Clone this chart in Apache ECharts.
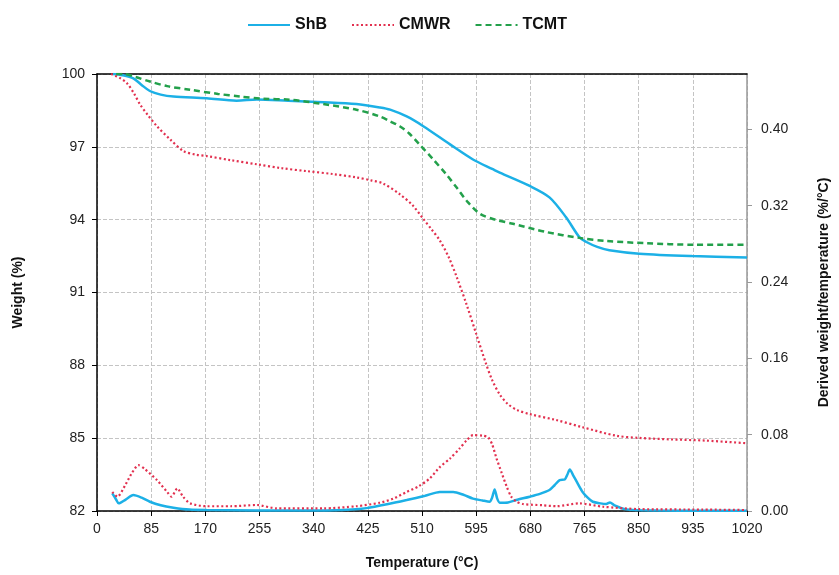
<!DOCTYPE html>
<html>
<head>
<meta charset="utf-8">
<script src="https://cdn.jsdelivr.net/npm/echarts@6/dist/echarts.min.js"></script>
<style>html,body{margin:0;padding:0;background:#fff;overflow:hidden}#c{width:839px;height:575px}</style>
</head>
<body>
<div id="c"></div>
<script>
// ---- data ----
const legendNames = ['ShB', 'CMWR', 'TCMT'];
const xTicks = [0, 85, 170, 255, 340, 425, 510, 595, 680, 765, 850, 935, 1020];

// TG curves (left axis, Weight %)
const shbTgT = [25, 40, 57, 70, 83, 100, 120, 172, 219, 251, 300, 355, 407, 444, 460, 486, 512, 554, 590, 621, 632, 679, 710, 736, 757, 768, 785, 804, 851, 934, 1020];
const shbTg  = [100, 99.95, 99.82, 99.55, 99.3, 99.15, 99.07, 99.0, 98.9, 98.95, 98.9, 98.84, 98.76, 98.62, 98.53, 98.25, 97.85, 97.1, 96.48, 96.08, 95.94, 95.39, 94.92, 94.1, 93.28, 93.08, 92.88, 92.74, 92.6, 92.5, 92.44];

const cmwrTgT = [22, 35, 47, 58, 68, 80, 94, 115, 136, 155, 172, 210, 251, 290, 329, 370, 407, 430, 449, 475, 495, 512, 525, 538, 552, 565, 580, 595, 610, 620, 632, 645, 660, 679, 720, 762, 815, 851, 900, 955, 1020];
const cmwrTg  = [100, 99.85, 99.62, 99.2, 98.73, 98.3, 97.85, 97.3, 96.82, 96.68, 96.62, 96.45, 96.28, 96.12, 96.0, 95.88, 95.74, 95.62, 95.49, 95.05, 94.6, 94.03, 93.6, 93.14, 92.45, 91.6, 90.5, 89.3, 88.1, 87.4, 86.8, 86.4, 86.15, 85.99, 85.75, 85.45, 85.1, 85.01, 84.95, 84.9, 84.79];

const tcmtTgT = [30, 42, 60, 83, 110, 146, 190, 225, 260, 303, 355, 407, 444, 460, 475, 490, 506, 527, 548, 565, 580, 601, 625, 653, 705, 757, 800, 862, 934, 1020];
const tcmtTg  = [100, 100, 99.88, 99.69, 99.5, 99.35, 99.18, 99.07, 98.98, 98.94, 98.76, 98.53, 98.25, 98.05, 97.85, 97.55, 97.1, 96.5, 95.87, 95.3, 94.78, 94.24, 94.0, 93.83, 93.49, 93.25, 93.12, 93.03, 92.97, 92.97];

// DTG curves (right axis, %/°C)
const shbDtgT = [24, 30, 34, 45, 57, 70, 83, 100, 120, 145, 172, 250, 350, 400, 423, 455, 486, 515, 538, 559, 575, 590, 605, 616, 620, 624, 628, 632, 645, 658, 679, 695, 710, 718, 726, 734, 738, 742, 747, 755, 762, 770, 778, 790, 799, 805, 812, 830, 877, 950, 1020];
const shbDtg  = [0.0184, 0.012, 0.008, 0.012, 0.0167, 0.014, 0.0097, 0.006, 0.0035, 0.0015, 0.001, 0.0005, 0.0005, 0.0015, 0.003, 0.007, 0.0115, 0.016, 0.020, 0.020, 0.017, 0.013, 0.011, 0.0097, 0.014, 0.0226, 0.013, 0.0087, 0.009, 0.0115, 0.015, 0.018, 0.022, 0.027, 0.0324, 0.033, 0.038, 0.0435, 0.0377, 0.028, 0.020, 0.014, 0.0097, 0.008, 0.0073, 0.009, 0.006, 0.0017, 0.0005, 0.0003, 0.0003];

const cmwrDtgT = [24, 32, 45, 55, 65, 75, 94, 110, 117, 126, 135, 146, 172, 210, 251, 282, 355, 407, 444, 465, 486, 505, 522, 538, 554, 569, 580, 590, 605, 614, 620, 627, 635, 643, 650, 658, 668, 700, 721, 757, 794, 850, 950, 1020];
const cmwrDtg  = [0.020, 0.015, 0.028, 0.040, 0.048, 0.044, 0.0324, 0.020, 0.015, 0.0237, 0.015, 0.008, 0.005, 0.005, 0.0063, 0.0027, 0.0027, 0.005, 0.0087, 0.013, 0.020, 0.026, 0.034, 0.046, 0.055, 0.0655, 0.074, 0.0795, 0.079, 0.077, 0.070, 0.055, 0.040, 0.0254, 0.015, 0.010, 0.0073, 0.006, 0.005, 0.008, 0.0045, 0.002, 0.0015, 0.001];

// ---- styles ----
const colors = { ShB: '#1cb0e6', CMWR: '#e2304f', TCMT: '#23a04b' };
const dashes = { ShB: 'solid', CMWR: [2, 2.5], TCMT: [6, 4] };
const zip = (xs, ys) => xs.map((x, i) => [x, ys[i]]);
const font = 'Arial, "Liberation Sans", sans-serif';

function line(name, xs, ys, yIdx, width, smooth) {
  return {
    name, type: 'line', xAxisIndex: 0, yAxisIndex: yIdx,
    data: zip(xs, ys), showSymbol: false, symbol: 'none', smooth: smooth,
    lineStyle: { color: colors[name], width: width, type: dashes[name] },
    itemStyle: { color: colors[name] },
    animation: false
  };
}

const chart = echarts.init(document.getElementById('c'), null, { renderer: 'canvas', width: 839, height: 575 });
chart.setOption({
  backgroundColor: '#fff',
  animation: false,
  legend: {
    data: legendNames,
    top: 12, left: 242, itemWidth: 42, itemHeight: 14, itemGap: 24,
    itemStyle: { opacity: 0 },
    textStyle: { fontFamily: font, fontWeight: 'bold', fontSize: 16, color: '#111' }
  },
  grid: { left: 97, right: 91, top: 74, bottom: 61, containLabel: false },
  xAxis: [{
    type: 'value', min: 0, max: 1020, interval: 85, position: 'bottom',
    name: 'Temperature (°C)', nameLocation: 'middle', nameGap: 45,
    nameTextStyle: { fontFamily: font, fontWeight: 'bold', fontSize: 14, color: '#111' },
    axisLine: { show: true, onZero: false, lineStyle: { color: '#000', width: 1.5 } },
    axisTick: { show: true, length: 5, lineStyle: { color: '#000' } },
    axisLabel: { fontFamily: font, fontSize: 14, color: '#222', margin: 11, formatter: v => String(v) },
    splitLine: { show: true, lineStyle: { color: '#c4c4c4', type: [4, 2], width: 1 } }
  }, {
    type: 'value', min: 0, max: 1020, position: 'top',
    axisLine: { show: true, onZero: false, lineStyle: { color: '#000', width: 1.5 } },
    axisTick: { show: false }, axisLabel: { show: false }, splitLine: { show: false }
  }],
  yAxis: [{
    type: 'value', min: 82, max: 100, interval: 3, position: 'left',
    name: 'Weight (%)', nameLocation: 'middle', nameGap: 72, nameRotate: 90,
    nameTextStyle: { fontFamily: font, fontWeight: 'bold', fontSize: 14, color: '#111' },
    axisLine: { show: true, onZero: false, lineStyle: { color: '#000', width: 1.5 } },
    axisTick: { show: true, length: 5, lineStyle: { color: '#000' } },
    axisLabel: { fontFamily: font, fontSize: 14, color: '#222', margin: 12 },
    splitLine: { show: true, lineStyle: { color: '#c4c4c4', type: [4, 2], width: 1 } }
  }, {
    type: 'value', min: 0, max: 0.458, interval: 0.08, position: 'right',
    name: 'Derived weight/temperature (%/°C)', nameLocation: 'middle', nameGap: 70, nameRotate: 90,
    nameTextStyle: { fontFamily: font, fontWeight: 'bold', fontSize: 14, color: '#111' },
    axisLine: { show: true, onZero: false, lineStyle: { color: '#999', width: 1.5 } },
    axisTick: { show: true, length: 5, lineStyle: { color: '#999' } },
    axisLabel: { fontFamily: font, fontSize: 14, color: '#222', margin: 14, showMaxLabel: false,
      formatter: v => (v > 0.41 ? '' : v.toFixed(2)) },
    splitLine: { show: false }
  }],
  series: [
    line('ShB', shbTgT, shbTg, 0, 2.5, 0.3),
    line('CMWR', cmwrTgT, cmwrTg, 0, 2.2, 0.3),
    line('TCMT', tcmtTgT, tcmtTg, 0, 2.5, 0.3),
    line('ShB', shbDtgT, shbDtg, 1, 2.5, 0.25),
    line('CMWR', cmwrDtgT, cmwrDtg, 1, 2.2, 0.25)
  ]
});
</script>
</body>
</html>
